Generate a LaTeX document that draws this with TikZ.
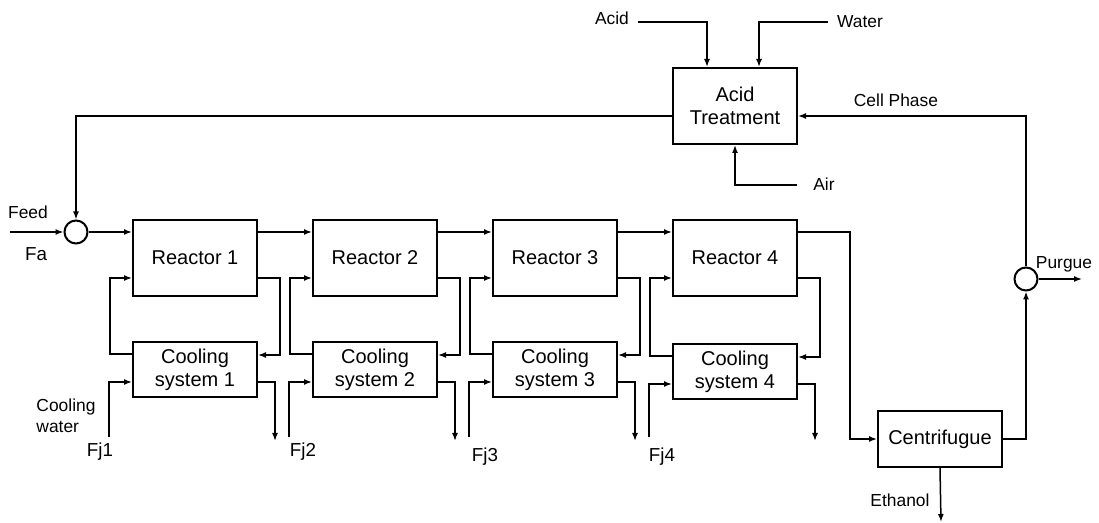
\documentclass[tikz,border=0pt]{standalone}
\usepackage{fontspec}
\setmainfont{Liberation Sans}
\usetikzlibrary{arrows.meta, positioning}

\begin{document}
\begin{tikzpicture}[x=0.5pt, y=-0.5pt, % pixel grid of the sketch
    unit/.style={draw, line width=1pt, minimum width=62pt, minimum height=38pt, inner sep=1pt, align=center, font=\fontsize{10}{11.7}\selectfont},
    cooler/.style={unit, minimum height=27.5pt},
    flow/.style={line width=0.75pt, -{Latex[length=4pt, width=3pt]}},
    junction/.style={circle, draw, line width=1pt, minimum size=11.5pt, inner sep=0pt},
    txt/.style={font=\fontsize{8.7}{10.4}\selectfont, align=left},
    big/.style={font=\fontsize{9.4}{11}\selectfont}
  ]
  \useasboundingbox (0,0) rectangle (1099,523);

  % Reactors and their cooling loops
  \foreach \i/\x/\cy/\fx/\fy in {1/195/370/100/452, 2/375/370/303/452, 3/555/370/485/457, 4/735/372/662/457} {
    \node[unit] (r\i) at (\x,258) {Reactor \i};
    \node[cooler] (c\i) at (\x,\cy) {Cooling\\system \i};
    \coordinate (w\i) at (\x-86,437);
    \coordinate (o\i) at (\x+80,441);
    \node[txt, big] (fj\i) at (\fx,\fy) {Fj\i};
    \draw[flow] ([yshift=-10pt]r\i.east) -- ++(11pt,0) |- ([yshift=7.5pt]c\i.east);
    \draw[flow] ([yshift=8pt]c\i.west) -- ++(-11pt,0) |- ([yshift=-10pt]r\i.west);
    \draw[flow] (w\i) |- ([yshift=-6pt]c\i.west);
    \draw[flow] ([yshift=-6pt]c\i.east) -| (o\i);
  }
  \foreach \a/\b in {1/2, 2/3, 3/4}
    \draw[flow] ([yshift=13pt]r\a.east) -- ([yshift=13pt]r\b.west);

  % Feed side
  \node[junction] (mix) at (76,232) {};
  \coordinate (feedin) at (10,232);
  \node[txt] (feed) at (28,212) {Feed};
  \node[txt, big] (fa) at (36,254) {Fa};
  \node[txt] (cw) at (66,416) {Cooling\\water};
  \draw[flow] (feedin) -- (mix);
  \draw[flow] (mix) -- ([yshift=13pt]r1.west);

  % Separation
  \node[unit, minimum height=28pt] (cent) at (940,439) {Centrifugue};
  \node[junction] (split) at (1026,279) {};
  \coordinate (purge) at (1082,279);
  \coordinate (eth) at (941,522);
  \node[txt] (purgelbl) at (1064,264) {Purgue};
  \node[txt] (ethlbl) at (900,500) {Ethanol};
  \draw[flow] ([yshift=13pt]r4.east) -- ++(26pt,0) |- (cent.west);
  \draw[flow] (cent.east) -| (split.south);
  \draw[flow] (split.east) -- (purge);
  \draw[flow] (cent.south) -- (eth);

  % Acid treatment and recycle
  \node[unit] (acid) at (735,106) {Acid\\Treatment};
  \coordinate (acidin) at (638,22);
  \coordinate (waterin) at (828,22);
  \coordinate (airin) at (797,185);
  \node[txt] (acidlbl) at (612,18) {Acid};
  \node[txt] (waterlbl) at (860,22) {Water};
  \node[txt] (airlbl) at (824,184) {Air};
  \node[txt] (celllbl) at (896,100) {Cell Phase};
  \draw[flow] (acidin) -| ([xshift=-14pt]acid.north);
  \draw[flow] (waterin) -| ([xshift=12pt]acid.north);
  \draw[flow] (airin) -| (acid.south);
  \draw[flow] (split.north) |- ([yshift=-5pt]acid.east);
  \draw[flow] ([yshift=-5pt]acid.west) -| (mix.north);

\end{tikzpicture}
\end{document}
